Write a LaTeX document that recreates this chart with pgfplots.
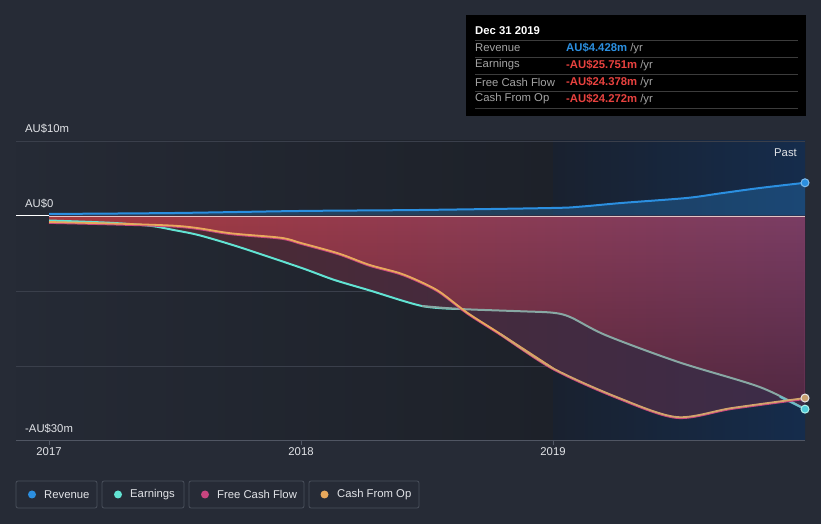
\documentclass[border=0pt]{standalone}
\usepackage{fontspec}
\setmainfont{Liberation Sans}
\usepackage{pgfplots}
\pgfplotsset{compat=1.18}
\usepgfplotslibrary{fillbetween}
\usetikzlibrary{fadings}
\definecolor{bg}{HTML}{262B36}
\definecolor{plotLa}{HTML}{252A35}
\definecolor{plotLb}{HTML}{1D2129}
\definecolor{plotRa}{HTML}{19212F}
\definecolor{plotRb}{HTML}{152C4C}
\definecolor{gridc}{HTML}{3A3F4B}
\definecolor{axisgray}{HTML}{505663}
\definecolor{revblue}{HTML}{2B8FE0}
\definecolor{teal}{HTML}{62E3D3}
\definecolor{tealdim}{HTML}{88A8A4}
\definecolor{tealend}{HTML}{6CBCC8}
\definecolor{pinkc}{HTML}{C8457F}
\definecolor{orangec}{HTML}{E8A95C}
\definecolor{tanc}{HTML}{D2A46C}
\definecolor{brightL}{HTML}{A73A3E}
\definecolor{brightM}{HTML}{96333B}
\definecolor{brightR}{HTML}{7A3D64}
\definecolor{darkL}{HTML}{4F292F}
\definecolor{darkM}{HTML}{5A2A32}
\definecolor{darkR}{HTML}{3C2C49}
\definecolor{lbl}{HTML}{E2E4E8}
\definecolor{ttgray}{HTML}{A4A4A4}
\definecolor{ttline}{HTML}{3C3C3C}
\definecolor{negred}{HTML}{E8423F}
\definecolor{legbox}{HTML}{4A505C}
\newcommand{\fs}{\fontsize{11.3}{13}\selectfont}
\begin{document}
\begin{tikzpicture}[x=1pt,y=1pt]
\pgfplotsset{set layers}
\begin{pgfonlayer}{axis background}
\fill[bg] (0,0) rectangle (821,524);
\shade[left color=plotLa, right color=plotLb] (16,83) rectangle (553,383);
\shade[left color=plotRa, right color=plotRb] (553,83) rectangle (805,383);
\end{pgfonlayer}
\begin{axis}[
  at={(16pt,83pt)}, anchor=south west,
  scale only axis, width=789pt, height=300pt,
  xmin=2016.869, xmax=2020, ymin=-30, ymax=10,
  separate axis lines,
  axis x line*=bottom, axis y line*=left,
  x axis line style={draw=axisgray, line width=1pt, -},
  y axis line style={draw=none},
  xtick={2017,2018,2019}, xticklabels={2017,2018,2019},
  x tick style={draw=axisgray, line width=1pt},
  tick align=outside, major tick length=4pt,
  xticklabel style={font=\fs, text=lbl, anchor=north, yshift=1pt},
  ytick={-20,-10,10}, yticklabels={}, y tick style={draw=none},
  ymajorgrids, grid style={draw=gridc, line width=0.8pt},
]
\addplot[draw=none, name path=zero, forget plot] coordinates {(2017,0) (2020,0)};
\addplot[draw=none, name path=R, smooth, forget plot] coordinates {(2017,0.27) (2017.5,0.4) (2018,0.67) (2018.47,0.8) (2019,1.07) (2019.11,1.25) (2019.27,1.73) (2019.53,2.4) (2019.66,3.0) (2019.82,3.73) (2020,4.428)};
\addplot[draw=none, name path=E, smooth, forget plot] coordinates {(2017,-0.6) (2017.24,-0.9) (2017.40,-1.3) (2017.50,-1.9) (2017.60,-2.6) (2017.76,-4.2) (2018.0,-6.9) (2018.13,-8.5) (2018.27,-9.9) (2018.48,-12.0) (2018.63,-12.4) (2018.87,-12.7) (2019.0,-12.9) (2019.07,-13.5) (2019.21,-15.9) (2019.5,-19.5) (2019.82,-22.8) (2020,-25.751)};
\addplot[draw=none, name path=F, smooth, forget plot] coordinates {(2017,-0.9) (2017.5,-1.4) (2017.72,-2.4) (2017.92,-3.0) (2018.0,-3.7) (2018.15,-5.1) (2018.27,-6.6) (2018.39,-7.7) (2018.47,-8.8) (2018.55,-10.2) (2018.66,-13.0) (2018.79,-15.8) (2019.0,-20.4) (2019.25,-24.2) (2019.49,-26.9) (2019.71,-25.7) (2020,-24.378)};
% fills
\addplot[revblue, fill opacity=0.28, draw=none, forget plot] fill between[of=zero and R];
\addplot[left color=brightL, middle color=brightM, right color=brightR, draw=none, forget plot] fill between[of=zero and E];
\addplot[left color=brightL, middle color=brightM, right color=brightR, draw=none, forget plot] fill between[of=zero and F];
\addplot[fill=black, fill opacity=0.36, draw=none, path fading=north, forget plot] fill between[of=zero and F];
\addplot[left color=darkL, middle color=darkM, right color=darkR, draw=none, forget plot] fill between[of=E and F];
\draw[white, line width=1pt] (axis cs:2016.869,0) -- (axis cs:2017,0);
\draw[white!70!brightL, line width=0.8pt] (axis cs:2017,0) -- (axis cs:2020,0);
% lines
\addplot[teal, line width=2pt, smooth] coordinates {(2017,-0.6) (2017.24,-0.9) (2017.40,-1.3) (2017.50,-1.9) (2017.60,-2.6) (2017.76,-4.2) (2018.0,-6.9) (2018.13,-8.5) (2018.27,-9.9) (2018.48,-12.0) (2018.63,-12.4)};
\addplot[tealdim, line width=2pt, smooth] coordinates {(2018.48,-12.0) (2018.63,-12.4) (2018.87,-12.7) (2019.0,-12.9) (2019.07,-13.5) (2019.21,-15.9) (2019.5,-19.5) (2019.82,-22.8) (2020,-25.751)};
\addplot[tealend, line width=2pt] coordinates {(2019.9,-24.1) (2020,-25.751)};
\addplot[pinkc, line width=2.2pt, smooth] coordinates {(2017,-0.9) (2017.5,-1.4) (2017.72,-2.4) (2017.92,-3.0) (2018.0,-3.7) (2018.15,-5.1) (2018.27,-6.6) (2018.39,-7.7) (2018.47,-8.8) (2018.55,-10.2) (2018.66,-13.0) (2018.79,-15.8) (2019.0,-20.4) (2019.25,-24.2) (2019.49,-26.9) (2019.71,-25.7) (2020,-24.378)};
\addplot[orangec, line width=1.8pt, smooth] coordinates {(2017,-0.8) (2017.5,-1.3) (2017.72,-2.3) (2017.92,-2.9) (2018.0,-3.6) (2018.15,-5.0) (2018.27,-6.5) (2018.39,-7.6) (2018.47,-8.7) (2018.55,-10.1) (2018.66,-12.9) (2018.79,-15.7) (2019.0,-20.3)};
\addplot[tanc, line width=1.8pt, smooth] coordinates {(2018.79,-15.7) (2019.0,-20.3) (2019.25,-24.1) (2019.49,-26.8) (2019.71,-25.6) (2020,-24.272)};
\addplot[revblue, line width=2pt, smooth] coordinates {(2017,0.27) (2017.5,0.4) (2018,0.67) (2018.47,0.8) (2019,1.07) (2019.11,1.25) (2019.27,1.73) (2019.53,2.4) (2019.66,3.0) (2019.82,3.73) (2020,4.428)};
% end markers
\addplot[only marks, mark=*, mark size=4pt, mark options={fill=revblue, draw=revblue!60!white, line width=1pt}] coordinates {(2020,4.428)};
\addplot[only marks, mark=*, mark size=4pt, mark options={fill=teal!70!revblue, draw=teal!50!white, line width=1pt}] coordinates {(2020,-25.751)};
\addplot[only marks, mark=*, mark size=4pt, mark options={fill=tanc!85!gray, draw=white!80!gray, line width=1pt}] coordinates {(2020,-24.272)};
\end{axis}
% y labels
\node[anchor=west, text=lbl, font=\fs, inner sep=0pt] at (25,395) {AU\$10m};
\node[anchor=west, text=lbl, font=\fs, inner sep=0pt] at (25,320) {AU\$0};
\node[anchor=west, text=lbl, font=\fs, inner sep=0pt] at (25,95) {-AU\$30m};
\node[anchor=east, text=lbl, font=\fs, inner sep=0pt] at (797,371) {Past};
% tooltip
\fill[black] (466,408) rectangle (806,509);
\node[anchor=west, text=white, font=\fs\bfseries, inner sep=0pt] at (475,493) {Dec 31 2019};
\foreach \yy in {484,467,450,433,416} {\draw[ttline, line width=0.8pt] (475,\yy) -- (798,\yy);}
\node[anchor=west, text=ttgray, font=\fs, inner sep=0pt] at (475,476) {Revenue};
\node[anchor=west, text=ttgray, font=\fs, inner sep=0pt] at (475,459) {Earnings};
\node[anchor=west, text=ttgray, font=\fs, inner sep=0pt] at (475,442) {Free Cash Flow};
\node[anchor=west, text=ttgray, font=\fs, inner sep=0pt] at (475,425) {Cash From Op};
\node[anchor=west, font=\fs, inner sep=0pt] at (566,476) {\textcolor{revblue}{\bfseries AU\$4.428m} \textcolor{ttgray}{/yr}};
\node[anchor=west, font=\fs, inner sep=0pt] at (566,459) {\textcolor{negred}{\bfseries -AU\$25.751m} \textcolor{ttgray}{/yr}};
\node[anchor=west, font=\fs, inner sep=0pt] at (566,442) {\textcolor{negred}{\bfseries -AU\$24.378m} \textcolor{ttgray}{/yr}};
\node[anchor=west, font=\fs, inner sep=0pt] at (566,425) {\textcolor{negred}{\bfseries -AU\$24.272m} \textcolor{ttgray}{/yr}};
% legend
\draw[legbox, line width=0.8pt, rounded corners=2pt] (16,16) rectangle (97,43);
\draw[legbox, line width=0.8pt, rounded corners=2pt] (102,16) rectangle (184,43);
\draw[legbox, line width=0.8pt, rounded corners=2pt] (189,16) rectangle (304,43);
\draw[legbox, line width=0.8pt, rounded corners=2pt] (309,16) rectangle (419,43);
\fill[revblue] (32,29.5) circle (4);
\fill[teal] (118,29.5) circle (4);
\fill[pinkc] (205,29.5) circle (4);
\fill[orangec] (324.5,29.5) circle (4);
\node[anchor=west, text=lbl, font=\fs, inner sep=0pt] at (44,29.5) {Revenue};
\node[anchor=west, text=lbl, font=\fs, inner sep=0pt] at (130,29.5) {Earnings};
\node[anchor=west, text=lbl, font=\fs, inner sep=0pt] at (217,29.5) {Free Cash Flow};
\node[anchor=west, text=lbl, font=\fs, inner sep=0pt] at (337,29.5) {Cash From Op};
\end{tikzpicture}
\end{document}
